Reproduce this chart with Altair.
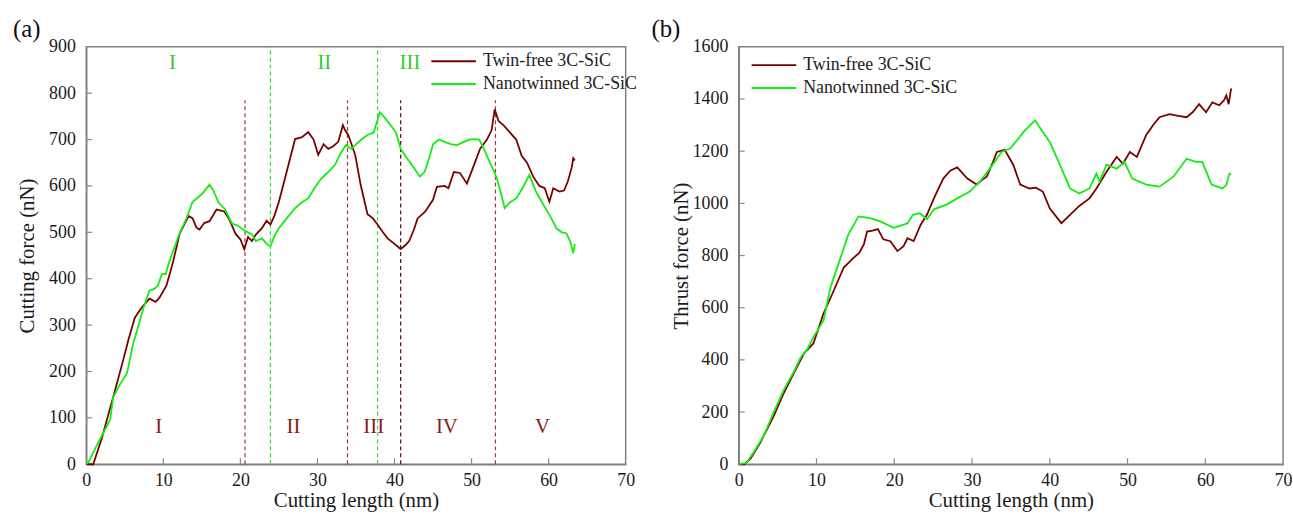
import altair as alt
import pandas as pd

FONT = "Liberation Serif"
RED = "#7a0000"
GREEN = "#11ee11"
SERIES = ["Twin-free 3C-SiC", "Nanotwinned 3C-SiC"]

# ---------------- (a) cutting force ----------------
a_red_x = [0, 0.9, 2.0, 3.5, 4.8, 5.5, 6.3, 7.2, 8.2, 9.0, 9.5, 10.4, 11.2, 12.1, 12.8, 13.3, 13.8, 14.3, 14.7, 15.3,
           16.0, 16.9, 17.9, 18.5, 19.4, 20.0, 20.5, 21.0, 21.5, 22.0, 22.8, 23.4, 23.9, 24.4, 25.0, 26.0, 27.1, 28.0,
           28.8, 29.5, 30.1, 30.8, 31.4, 32.0, 32.7, 33.3, 33.6, 34.0, 34.9, 35.6, 36.5, 37.2, 37.8, 38.5, 39.1, 40.0,
           40.8, 41.4, 41.9, 42.5, 43.0, 44.0, 45.0, 45.5, 46.5, 47.0, 47.7, 48.5, 49.4, 50.2, 51.1, 52.0, 52.6, 53.0,
           53.5, 54.2, 55.0, 55.8, 56.5, 57.2, 58.0, 58.8, 59.5, 60.1, 60.6, 61.4, 62.0, 62.5, 63.0, 63.2, 63.4]
a_red_y = [0, 0, 55, 145, 225, 270, 316, 338, 357, 350, 359, 385, 432, 496, 520, 535, 530, 510, 506, 520,
           524, 549, 545, 530, 496, 485, 464, 490, 481, 495, 509, 525, 517, 535, 566, 630, 701, 705,
           716, 700, 667, 690, 680, 685, 695, 731, 720, 710, 667, 603, 539, 530, 517, 500, 487, 475,
           464, 472, 481, 505, 530, 545, 570, 598, 600, 595, 630, 628, 605, 640, 680, 700, 720, 765,
           740, 730, 715, 700, 665, 650, 620, 600, 595, 566, 595, 588, 590, 610, 640, 660, 655]

a_green_x = [0, 0.3, 1.5, 3.1, 3.5, 4.3, 5.3, 6.1, 6.8, 7.2, 7.8, 8.2, 8.8, 9.3, 9.8, 10.3, 10.8, 11.5, 12.1, 13.0,
             13.8, 14.5, 15.1, 16.0, 16.5, 17.2, 18.0, 18.9, 19.6, 20.7, 21.5, 22.0, 22.8, 23.4, 23.9, 24.5, 25.0,
             26.0, 27.1, 28.0, 28.8, 29.6, 30.5, 31.4, 32.3, 33.0, 33.7, 34.4, 34.9, 35.7, 36.5, 37.3, 38.1, 38.6,
             39.5, 40.2, 40.8, 41.6, 42.6, 43.3, 43.9, 44.5, 45.0, 45.8, 46.5, 47.3, 48.1, 49.0, 49.7, 50.3, 51.0,
             51.6, 52.4, 53.3, 53.8, 54.3, 55.0, 55.8, 56.6, 57.5, 58.3, 59.3, 60.2, 61.0, 61.7, 62.3, 62.8, 63.2, 63.4]
a_green_y = [0, 5, 45, 96, 145, 170, 197, 261, 300, 325, 355, 374, 378, 385, 410, 410, 438, 470, 498, 530,
             566, 575, 584, 603, 590, 563, 550, 519, 515, 502, 496, 481, 487, 475, 470, 495, 509,
             530, 552, 565, 573, 595, 616, 630, 646, 670, 688, 680, 688, 700, 710, 715, 759, 750,
             731, 715, 680, 660, 637, 620, 630, 660, 690, 700, 695, 690, 688, 695, 700, 701, 700,
             680, 650, 616, 585, 552, 565, 573, 595, 624, 590, 560, 535, 509, 500, 498, 480, 455, 475]

# region boundaries (a)
a_red_bounds = [20.6, 33.9, 53.1]
a_dark_bounds = [40.8]
a_green_bounds = [23.9, 37.8]
a_red_labels = ["I", "II", "III", "IV", "V"]
a_red_label_x = [9.4, 26.9, 37.3, 46.8, 59.2]
a_red_label_y = 80
a_green_labels = ["I", "II", "III"]
a_green_label_x = [11.2, 30.9, 42.0]
a_green_label_y = 865

# ---------------- (b) thrust force ----------------
b_red_x = [0, 0.7, 1.5, 2.8, 4.5, 5.8, 7.1, 8.4, 9.6, 10.9, 12.2, 13.5, 14.8, 15.5, 16.1, 16.5, 17.2, 17.9, 18.6, 19.5,
           20.4, 21.2, 21.7, 22.5, 23.4, 24.2, 25.1, 26.3, 27.2, 28.1, 29.4, 30.6, 31.3, 31.9, 32.7, 33.2, 34.2, 35.3,
           36.2, 37.4, 38.2, 39.1, 40.0, 40.8, 41.5, 42.6, 43.8, 45.1, 46.0, 47.3, 48.6, 49.4, 50.3, 51.2, 52.4, 53.3,
           54.1, 55.4, 56.5, 57.6, 58.4, 59.2, 60.1, 60.9, 61.8, 62.4, 62.7, 63.0, 63.3, 63.4]
b_red_y = [0, 0, 20, 84, 184, 273, 350, 425, 463, 577, 664, 754, 792, 810, 843, 892, 895, 901, 862, 855,
           817, 836, 866, 855, 918, 956, 1019, 1095, 1125, 1138, 1095, 1072, 1090, 1102, 1159, 1197, 1205, 1148,
           1072, 1057, 1060, 1045, 981, 950, 924, 956, 990, 1019, 1057, 1121, 1178, 1152, 1197, 1178, 1262, 1300,
           1330, 1342, 1335, 1330, 1350, 1380, 1349, 1387, 1376, 1395, 1414, 1380, 1437, 1440]

b_green_x = [0, 1.0, 2.0, 3.2, 4.5, 5.8, 7.0, 8.0, 8.8, 9.6, 10.9, 11.8, 13.1, 14.1, 15.4, 16.9, 18.2, 19.9, 21.2, 21.7,
             22.4, 23.3, 24.2, 25.1, 26.8, 28.1, 29.7, 31.0, 32.3, 33.8, 34.9, 35.8, 36.6, 38.1, 39.1, 40.0, 41.3,
             42.6, 43.8, 45.1, 46.0, 46.4, 47.3, 48.6, 49.6, 50.6, 52.4, 54.1, 55.9, 57.6, 58.8, 59.6, 60.8, 62.2,
             62.7, 63.1, 63.3]
b_green_y = [0, 5, 50, 108, 200, 285, 350, 411, 440, 487, 550, 678, 792, 881, 950, 943, 931, 906, 918, 924,
             956, 962, 939, 977, 996, 1019, 1045, 1083, 1133, 1197, 1210, 1242, 1273, 1318, 1273, 1235, 1148,
             1057, 1038, 1057, 1114, 1083, 1148, 1133, 1159, 1095, 1072, 1064, 1102, 1171, 1159, 1159, 1072, 1057,
             1070, 1114, 1110]

x_ticks = [0, 10, 20, 30, 40, 50, 60, 70]
a_y_ticks = [0, 100, 200, 300, 400, 500, 600, 700, 800, 900]
b_y_ticks = [0, 200, 400, 600, 800, 1000, 1200, 1400, 1600]

H = 421


def frame(xs_red, ys_red, xs_green, ys_green):
    return pd.concat([
        pd.DataFrame({"x": xs_red, "y": ys_red, "series": SERIES[0], "o": range(len(xs_red))}),
        pd.DataFrame({"x": xs_green, "y": ys_green, "series": SERIES[1], "o": range(len(xs_green))}),
    ])


def panel(df, ymax, yticks, ytitle, ytitle_pad, tag, legend_x, legend_y, tag_x):
    xs = alt.Scale(domain=[0, 70], nice=False, zero=False)
    ys = alt.Scale(domain=[0, ymax], nice=False)
    lines = alt.Chart(df).mark_line(strokeWidth=1.8).encode(
        x=alt.X("x:Q", scale=xs, title="Cutting length (nm)",
                axis=alt.Axis(values=x_ticks, format="d", labelPadding=7, titlePadding=1)),
        y=alt.Y("y:Q", scale=ys, title=ytitle,
                axis=alt.Axis(values=yticks, format="d", labelPadding=11, titlePadding=ytitle_pad)),
        color=alt.Color("series:N", scale=alt.Scale(domain=SERIES, range=[RED, GREEN]),
                        legend=alt.Legend(orient="none", legendX=legend_x, legendY=legend_y, title=None,
                                          symbolType="M-2,0L2,0", symbolSize=506, symbolStrokeWidth=2,
                                          labelFont=FONT, labelFontSize=18, labelColor="#222222",
                                          padding=0, rowPadding=1, labelOffset=17)),
        order="o:Q",
        detail="series:N",
    )
    xt = alt.Chart(pd.DataFrame({"v": x_ticks[1:-1]})).mark_rule(color="#888888", strokeWidth=1.2).encode(
        x=alt.X("v:Q", scale=xs), y=alt.value(H), y2=alt.value(H - 6))
    yt = alt.Chart(pd.DataFrame({"v": yticks[1:-1]})).mark_rule(color="#888888", strokeWidth=1.2).encode(
        y=alt.Y("v:Q", scale=ys), x=alt.value(0), x2=alt.value(6))
    tagm = alt.Chart(pd.DataFrame({"t": [tag]})).mark_text(
        font=FONT, fontSize=25, align="left", baseline="top", color="#111111"
    ).encode(text="t:N", x=alt.value(tag_x), y=alt.value(-30))
    return [xt, yt, lines, tagm], xs, ys


df_a = frame(a_red_x, a_red_y, a_green_x, a_green_y)
df_b = frame(b_red_x, b_red_y, b_green_x, b_green_y)

layers_a, xs_a, ys_a = panel(df_a, 900, a_y_ticks, "Cutting force (nN)", 11, "(a)", 358, 2, -74)


def vrules(xs_vals, y_top, color, width=1.2):
    return alt.Chart(pd.DataFrame({"x": xs_vals, "y0": 0, "y1": y_top})).mark_rule(
        color=color, strokeWidth=width, strokeDash=[4, 3]
    ).encode(x=alt.X("x:Q", scale=xs_a), y=alt.Y("y0:Q", scale=ys_a), y2="y1:Q")


def labels(xs_vals, y_val, txt, color):
    return alt.Chart(pd.DataFrame({"x": xs_vals, "y": y_val, "t": txt})).mark_text(
        font=FONT, fontSize=21, color=color
    ).encode(x=alt.X("x:Q", scale=xs_a), y=alt.Y("y:Q", scale=ys_a), text="t:N")


extra_a = [
    vrules(a_red_bounds, 785, "#9a3a3a"),
    vrules(a_dark_bounds, 785, "#4a1010"),
    vrules(a_green_bounds, 900, "#33dd33"),
    labels(a_red_label_x, a_red_label_y, a_red_labels, "#8b1a1a"),
    labels(a_green_label_x, a_green_label_y, a_green_labels, "#33cc33"),
]

left = alt.layer(*(extra_a + layers_a)).properties(width=544, height=H)

layers_b, _, _ = panel(df_b, 1600, b_y_ticks, "Thrust force (nN)", 1, "(b)", 23, 6, -88)
right = alt.layer(*layers_b).properties(width=549, height=H)

chart = alt.hconcat(left, right, spacing=12).resolve_scale(color="independent").resolve_legend(
    color="independent"
).properties(
    padding={"left": 12, "top": 14, "right": 0, "bottom": 0}, background="white"
).configure_view(stroke="#808080", strokeWidth=1.5).configure_axis(
    labelFont=FONT, labelFontSize=18, labelColor="#1a1a1a", titleFont=FONT, titleFontSize=21,
    titleFontWeight="normal", titleColor="#1a1a1a", grid=False, ticks=False, tickSize=0,
    labelFlush=False, domainColor="#808080", domainWidth=1.5
)

chart.save("out.html", embed_options={"renderer": "svg", "actions": False})
